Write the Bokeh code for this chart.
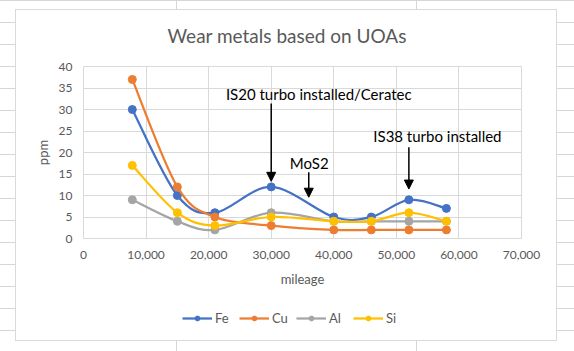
import numpy as np
from bokeh.plotting import figure
from bokeh.layouts import column
from bokeh.models import (Arrow, NormalHead, Label, Legend, LegendItem,
                          NumeralTickFormatter, FixedTicker, Range1d)
from bokeh.embed import file_html
from bokeh.resources import INLINE

# ---------------- data ----------------
mileage = [7800, 15000, 21000, 30000, 40000, 46000, 52000, 58000]
fe = [30, 10, 6, 12, 5, 5, 9, 7]
cu = [37, 12, 5, 3, 2, 2, 2, 2]
al = [9, 4, 2, 6, 4, 4, 4, 4]
si = [17, 6, 3, 5, 4, 4, 6, 4]
series_names = ["Fe", "Cu", "Al", "Si"]
series_values = [fe, cu, al, si]
y_ticks = [0, 5, 10, 15, 20, 25, 30, 35, 40]
x_ticks = [0, 10000, 20000, 30000, 40000, 50000, 60000, 70000]
title_text = "Wear metals based on UOAs"
x_label = "mileage"
y_label = "ppm"
note_texts = ["IS20 turbo installed/Ceratec", "MoS2", "IS38 turbo installed"]

# ---------------- styles / positions ----------------
colors = ["#4472C4", "#ED7D31", "#A5A5A5", "#FFC000"]
FONT = "Lato"
GREY_TXT = "#595959"
GRID = "#d9d9d9"
# annotation geometry (data units): arrow x, arrow top, arrow tip / label x, label y
note_arrows = [(30000, 31.4, 13.3), (36000, 15.4, 9.6), (52000, 21.2, 11.5)]
note_labels = [(37600, 33.6), (36080, 17.5), (56560, 23.9)]


def smooth_segments(xs, ys):
    """Catmull-Rom -> cubic Bezier control points (like Excel's smoothed line)."""
    x = np.asarray(xs, float)
    y = np.asarray(ys, float)
    n = len(x)
    xp = np.concatenate([[x[0]], x, [x[-1]]])
    yp = np.concatenate([[y[0]], y, [y[-1]]])
    cx0 = x[:-1] + (xp[2:n + 1] - xp[0:n - 1]) / 6.0
    cy0 = y[:-1] + (yp[2:n + 1] - yp[0:n - 1]) / 6.0
    cx1 = x[1:] - (xp[3:n + 2] - xp[1:n]) / 6.0
    cy1 = y[1:] - (yp[3:n + 2] - yp[1:n]) / 6.0
    return dict(x0=x[:-1], y0=y[:-1], x1=x[1:], y1=y[1:],
                cx0=cx0, cy0=cy0, cx1=cx1, cy1=cy1)


# spreadsheet-like page behind the chart box (CSS background of the layout host)
bg_images = ", ".join([
    "linear-gradient(#ffffff, #ffffff)",
    "linear-gradient(#d9d9d9, #d9d9d9)",
    "linear-gradient(to right, transparent 176px, #d6d6d6 176px, #d6d6d6 177px, "
    "transparent 177px, transparent 416px, #d6d6d6 416px, #d6d6d6 417px, transparent 417px)",
    "repeating-linear-gradient(to bottom, #d6d6d6 0px, #d6d6d6 1px, transparent 1px, transparent 22px)",
])
bg_styles = {
    "background-color": "#ffffff",
    "background-image": bg_images,
    "background-position": "16px 10px, 15px 9px, 0px 0px, 0px 0px",
    "background-size": "540px 330px, 542px 332px, 100% 100%, 100% 100%",
    "background-repeat": "no-repeat, no-repeat, no-repeat, no-repeat",
}

# ---------------- main chart ----------------
p = figure(width=574, height=300,
           x_range=Range1d(0, 70000), y_range=Range1d(0, 40),
           output_backend="svg", toolbar_location=None,
           min_border_left=83, min_border_right=53,
           min_border_top=66, min_border_bottom=62,
           background_fill_color="white", border_fill_alpha=0)

p.title.text = title_text
p.title.text_font = FONT
p.title.text_font_size = "19px"
p.title.text_font_style = "normal"
p.title.text_color = GREY_TXT
p.title.align = "left"
p.title.offset = 84
p.title.standoff = 40

p.outline_line_color = GRID

for ax in (p.xaxis[0], p.yaxis[0]):
    ax.major_tick_line_color = None
    ax.minor_tick_line_color = None
    ax.major_tick_out = 0
    ax.major_tick_in = 0
    ax.minor_tick_out = 0
    ax.minor_tick_in = 0
    ax.major_label_text_font = FONT
    ax.major_label_text_font_size = "12px"
    ax.major_label_text_color = GREY_TXT
    ax.axis_label_text_font = FONT
    ax.axis_label_text_font_size = "13px"
    ax.axis_label_text_font_style = "normal"
    ax.axis_label_text_color = GREY_TXT

p.xaxis.ticker = FixedTicker(ticks=x_ticks)
p.yaxis.ticker = FixedTicker(ticks=y_ticks)
p.xaxis.formatter = NumeralTickFormatter(format="0,0")
p.xaxis.axis_label = x_label
p.yaxis.axis_label = y_label
p.xaxis.axis_line_color = GRID
p.yaxis.axis_line_color = None
p.xaxis.major_label_standoff = 12
p.yaxis.major_label_standoff = 11
p.xaxis.axis_label_standoff = 9
p.yaxis.axis_label_standoff = 5

p.xgrid.ticker = FixedTicker(ticks=x_ticks)
p.ygrid.ticker = FixedTicker(ticks=y_ticks)
p.xgrid.grid_line_color = GRID
p.ygrid.grid_line_color = GRID

for name, vals, col in zip(series_names, series_values, colors):
    seg = smooth_segments(mileage, vals)
    p.bezier(x0="x0", y0="y0", x1="x1", y1="y1",
             cx0="cx0", cy0="cy0", cx1="cx1", cy1="cy1",
             source=seg, line_color=col, line_width=2.25)
    p.scatter(mileage, vals, size=8, marker="circle",
              fill_color=col, line_color=col)

for (ax_x, y_top, y_tip), (lx, ly), txt in zip(note_arrows, note_labels, note_texts):
    p.add_layout(Arrow(x_start=ax_x, y_start=y_top, x_end=ax_x, y_end=y_tip,
                       line_color="black", line_width=1.5,
                       end=NormalHead(size=9, fill_color="black",
                                      line_color="black")))
    p.add_layout(Label(x=lx, y=ly, text=txt, text_align="center",
                       text_baseline="middle", text_font=FONT,
                       text_font_size="15px", text_color="black"))

# ---------------- legend strip (same series, shown only as legend keys) ----------------
pl = figure(width=574, height=51,
            x_range=Range1d(-2, -1), y_range=Range1d(-2, -1),
            output_backend="svg", toolbar_location=None,
            x_axis_type=None, y_axis_type=None,
            min_border_left=0, min_border_right=0,
            min_border_top=0, min_border_bottom=0,
            background_fill_alpha=0, border_fill_alpha=0)
pl.outline_line_color = None
pl.xgrid.visible = False
pl.ygrid.visible = False

items = []
for name, vals, col in zip(series_names, series_values, colors):
    r_l = pl.line(mileage, vals, line_color=col, line_width=2.25)
    r_s = pl.scatter(mileage, vals, size=8, marker="circle",
                     fill_color=col, line_color=col)
    items.append(LegendItem(label=name, renderers=[r_l, r_s]))

legend = Legend(items=items, orientation="horizontal", location=(97, 23),
                border_line_alpha=0, background_fill_alpha=0,
                label_text_font=FONT, label_text_font_size="13px",
                label_text_color=GREY_TXT, glyph_width=30, glyph_height=12,
                label_height=14, spacing=4, label_standoff=3, padding=2, margin=0)
pl.add_layout(legend, "center")

layout = column(p, pl, spacing=0, styles=bg_styles)

open("out.html", "w").write(file_html(layout, INLINE))
